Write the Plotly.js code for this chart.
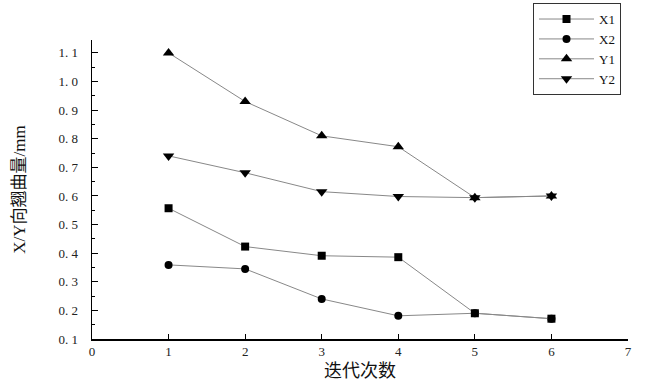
<!DOCTYPE html>
<html><head><meta charset="utf-8">
<script src="https://cdn.plot.ly/plotly-3.0.1.min.js"></script>
<style>html,body{margin:0;padding:0;background:#fff}#c{width:650px;height:384px}</style>
</head><body><div id="c"></div>
<script>
const iterations = [1, 2, 3, 4, 5, 6];
const X1 = [0.557, 0.423, 0.391, 0.386, 0.190, 0.171];
const X2 = [0.359, 0.345, 0.240, 0.181, 0.190, 0.171];
const Y1 = [1.100, 0.930, 0.810, 0.772, 0.594, 0.600];
const Y2 = [0.740, 0.681, 0.615, 0.598, 0.594, 0.600];
const seriesNames = ['X1', 'X2', 'Y1', 'Y2'];
const yTickVals = [0.1, 0.2, 0.3, 0.4, 0.5, 0.6, 0.7, 0.8, 0.9, 1.0, 1.1];
const yTickText = ['0. 1','0. 2','0. 3','0. 4','0. 5','0. 6','0. 7','0. 8','0. 9','1. 0','1. 1'];
const xTickVals = [0, 1, 2, 3, 4, 5, 6, 7];
const xTitle = '迭代次数';
const yTitle = 'X/Y向翘曲量/mm';

const fontFam = "'Liberation Serif', 'Times New Roman', 'Noto Sans CJK SC', serif";
const legendFont = "'Liberation Serif', 'Times New Roman', serif";
const symbols = ['square', 'circle', 'triangle-up', 'triangle-down'];
const data = [X1, X2, Y1, Y2].map((ys, i) => ({
  x: iterations, y: ys, name: seriesNames[i], type: 'scatter', mode: 'lines+markers',
  line: {color: '#888', width: 1},
  marker: {symbol: symbols[i], color: '#000', size: i >= 2 ? 10 : 8}
}));

const layout = {
  width: 650, height: 384,
  margin: {l: 92, r: 22, t: 40, b: 45, autoexpand: false},
  paper_bgcolor: '#fff', plot_bgcolor: '#fff',
  font: {family: fontFam, color: '#222', size: 12},
  showlegend: true,
  legend: {x: 0.82, xanchor: 'left', xref: 'container', y: 0.992, yanchor: 'top', yref: 'container',
    bordercolor: '#333', borderwidth: 1, bgcolor: '#fff',
    font: {family: legendFont, size: 13, color: '#111'}, tracegroupgap: 0,
    traceorder: 'normal', itemwidth: 55},
  xaxis: {range: [0, 7], tickvals: xTickVals, ticks: 'inside', ticklen: 5,
    tickcolor: '#000', showline: true, linecolor: '#000', linewidth: 1.5,
    showgrid: false, zeroline: false,
    tickfont: {family: fontFam, size: 13, color: '#222'},
    title: {text: xTitle, font: {family: fontFam, size: 18, color: '#111'}, standoff: 6}},
  yaxis: {range: [0.1, 1.145], tickvals: yTickVals, ticktext: yTickText,
    ticks: 'inside', ticklen: 6, tickcolor: '#000', ticklabelstandoff: 10,
    minor: {dtick: 0.05, tick0: 0.05, ticks: 'inside', ticklen: 3, tickcolor: '#000'},
    showline: true, linecolor: '#000', linewidth: 1.5,
    showgrid: false, zeroline: false,
    tickfont: {family: fontFam, size: 13, color: '#222'},
    title: {text: yTitle, font: {family: fontFam, size: 17, color: '#111'}, standoff: 28}}
};
Plotly.newPlot('c', data, layout, {displayModeBar: false, staticPlot: true});
</script></body></html>
